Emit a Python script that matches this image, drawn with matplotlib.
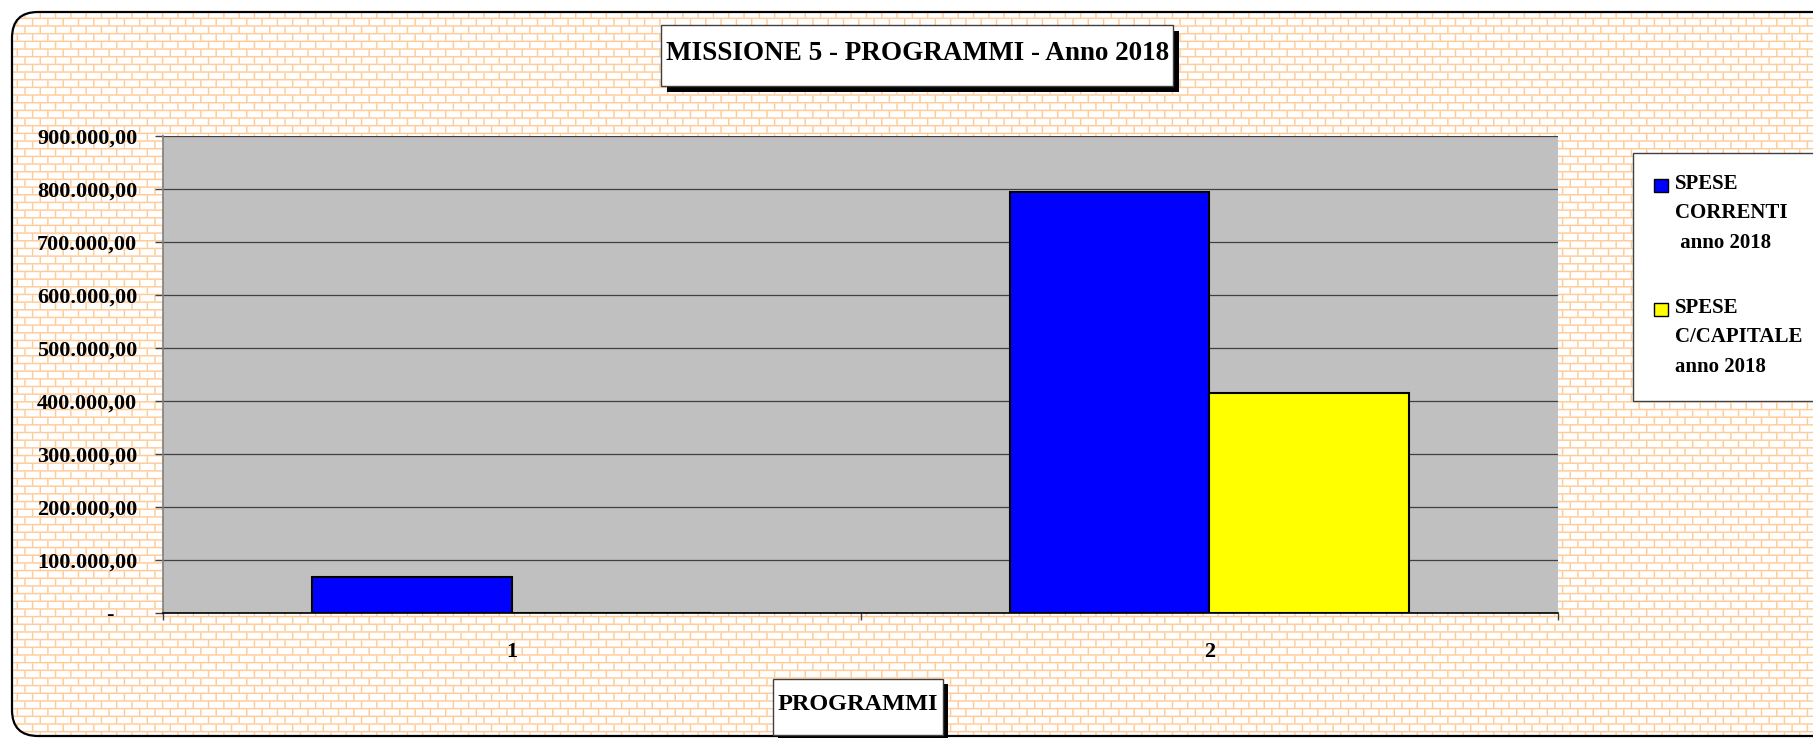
import numpy as np
import matplotlib
matplotlib.use("Agg")
import matplotlib.pyplot as plt
from matplotlib.patches import FancyBboxPatch, Rectangle
from matplotlib.ticker import FixedLocator, FuncFormatter

# data
programmi = ["1", "2"]
spese_correnti = [68500, 795000]
spese_capitale = [0, 414500]
y_ticks = [0, 100000, 200000, 300000, 400000, 500000, 600000, 700000, 800000, 900000]
legend_labels = ["SPESE\nCORRENTI\n anno 2018", "SPESE\nC/CAPITALE\nanno 2018"]
title_text = "MISSIONE 5 - PROGRAMMI - Anno 2018"
xlabel_text = "PROGRAMMI"

W, H = 1813, 738
SERIF = ["Liberation Serif", "DejaVu Serif"]

fig = plt.figure(figsize=(W / 100, H / 100), dpi=100, facecolor="white")


def brick_pattern(h, w, row_h=7.67, brick_w=15.3):
    yy, xx = np.mgrid[0:h, 0:w] + 0.5
    ry = (yy - 3.0) % row_h
    disty = np.minimum(ry, row_h - ry)
    row = np.floor((yy - 3.0) / row_h)
    xoff = 2.0 + (row % 2) * brick_w / 2
    rx = (xx - xoff) % brick_w
    distx = np.minimum(rx, brick_w - rx)
    m = np.maximum(np.clip(1.25 - disty, 0, 1), np.clip(1.25 - distx, 0, 1))
    mortar = np.array([1.0, 0.80, 0.60])
    img = np.ones((h, w, 3)) * (1 - m[..., None]) + mortar * m[..., None]
    return img


# background layer in pixel coordinates
bg = fig.add_axes([0, 0, 1, 1], zorder=0)
bg.set_xlim(0, W)
bg.set_ylim(H, 0)
bg.axis("off")
frame = FancyBboxPatch((12, 12), W + 40, 724,
                       boxstyle="round,pad=0,rounding_size=26",
                       facecolor="none", edgecolor="black", lw=1.6, zorder=5)
bg.add_patch(frame)
im = bg.imshow(brick_pattern(H, W), extent=(0, W, H, 0), aspect="auto",
               interpolation="nearest", zorder=1)
im.set_clip_path(frame)


def shadow_box(x, y, w, h, off=6):
    bg.add_patch(Rectangle((x + off, y + off), w, h, facecolor="black",
                           edgecolor="none", zorder=6))
    bg.add_patch(Rectangle((x, y), w, h, facecolor="white",
                           edgecolor="#404040", lw=1.0, zorder=7))


# title
shadow_box(661, 25, 512, 61)
bg.text(666, 53, title_text, ha="left", va="center", fontsize=19.5,
        fontweight="bold", family=SERIF, zorder=8)

# x label box
shadow_box(773, 679, 170, 56, off=5)
bg.text(858, 704, xlabel_text, ha="center", va="center", fontsize=17.5,
        fontweight="bold", family=SERIF, zorder=8)

# legend
bg.add_patch(Rectangle((1633, 153), 220, 248, facecolor="white",
                       edgecolor="#404040", lw=1.0, zorder=7))
colors = ["#0000FF", "#FFFF00"]
for i, (lab, c) in enumerate(zip(legend_labels, colors)):
    y0 = 179 + i * 124
    bg.add_patch(Rectangle((1654, y0), 14, 13, facecolor=c,
                           edgecolor="black", lw=1.0, zorder=8))
    bg.text(1675, y0 - 5, lab, ha="left", va="top", fontsize=15,
            fontweight="bold", family=SERIF, linespacing=1.62, zorder=8)

# main plot area
ax = fig.add_axes([163 / W, (H - 613) / H, (1558 - 163) / W, (613 - 136) / H],
                  zorder=1)
ax.set_facecolor("#C0C0C0")

x = np.arange(len(programmi))
bw = 1 / 3.5
ax.bar(x - bw / 2, spese_correnti, bw, color="#0000FF", edgecolor="black",
       lw=1.5, zorder=3)
ax.bar(x + bw / 2, spese_capitale, bw, color="#FFFF00", edgecolor="black",
       lw=1.5, zorder=3)

ax.set_xlim(-0.5, len(programmi) - 0.5)
ax.set_ylim(0, 900000)

ax.yaxis.set_major_locator(FixedLocator(y_ticks))


def it_fmt(v, pos):
    if v == 0:
        return "-    "
    s = f"{v:,.2f}"
    return s.replace(",", "X").replace(".", ",").replace("X", ".")


ax.yaxis.set_major_formatter(FuncFormatter(it_fmt))
ax.yaxis.grid(True, color="#404040", lw=0.9, zorder=1)
ax.set_axisbelow(True)

ax.set_xticks(x)
ax.set_xticklabels(programmi)
ax.set_xticks(np.arange(-0.5, len(programmi), 1.0), minor=True)
ax.tick_params(axis="x", which="major", length=0, pad=21)
ax.tick_params(axis="x", which="minor", length=5, direction="out",
               color="#404040", width=1)
ax.tick_params(axis="y", which="major", length=5.5, direction="out",
               color="#404040", width=1, pad=13)

for lab in ax.get_xticklabels() + ax.get_yticklabels():
    lab.set_family(SERIF)
    lab.set_fontweight("bold")
    lab.set_fontsize(16)

for s in ("top", "right"):
    ax.spines[s].set_visible(False)
ax.spines["left"].set_color("#808080")
ax.spines["left"].set_linewidth(1.2)
ax.spines["bottom"].set_color("black")
ax.spines["bottom"].set_linewidth(1.2)

fig.savefig("out.png", dpi=100, facecolor="white")
